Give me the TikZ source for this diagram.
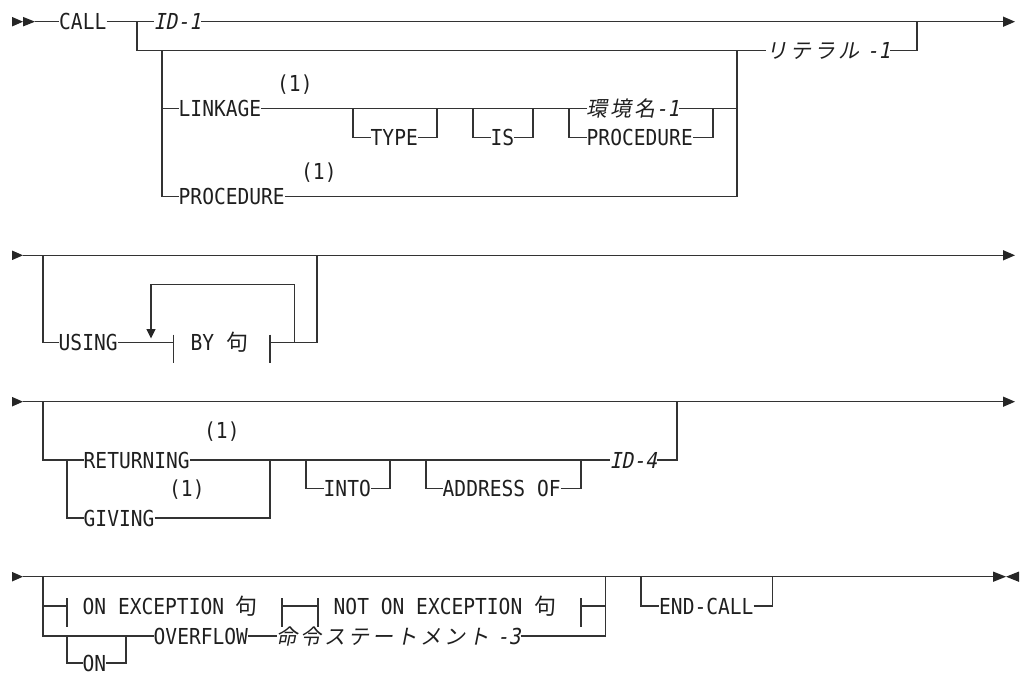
\documentclass[tikz,border=0pt]{standalone}
\usepackage{fontspec}
\newfontfamily\rrfont[FakeStretch=0.89]{DejaVu Sans Mono}
\newfontfamily\rritfont[FakeStretch=0.89,FakeSlant=0.2]{DejaVu Sans Mono}
\newfontfamily\jpfont{Noto Sans CJK JP}
\newfontfamily\jpitfont[FakeSlant=0.2,LetterSpace=14]{Noto Sans CJK JP}
\newcommand\kwsize{\fontsize{22}{24}\selectfont}
\newcommand\jpsize{\fontsize{21}{24}\selectfont}
\begin{document}
\begin{tikzpicture}[x=1pt,y=-1pt,
  rail/.style={line width=1.2pt, draw=black!80, line join=miter},
  kw/.style={font=\rrfont\kwsize, text=black!88, inner xsep=0pt, inner ysep=0pt,
             text height=16pt, text depth=0pt, anchor=west},
  kwit/.style={kw, font=\rritfont\kwsize},
  jpit/.style={kw, font=\jpitfont\jpsize},
  tip/.style={fill=black!85, draw=none}]
\useasboundingbox (0,0) rectangle (1023,674);

% ================= Row 1 =================
\coordinate (s1) at (35,21.7);
\coordinate (e1) at (1003,21.7);
\coordinate (b1) at (137,21.7);
\coordinate (j1) at (917,21.7);
\coordinate (g1) at (162,50.5);
\coordinate (g1r) at (737,50.5);
\coordinate (tL) at (353,108.3);
\coordinate (tR) at (437,108.3);
\coordinate (isL) at (473,108.3);
\coordinate (isR) at (533,108.3);
\coordinate (cL) at (569,108.3);
\coordinate (cR) at (713,108.3);

\fill[tip] (12,16.9) -- (23,21.7) -- (12,26.5) -- cycle;
\fill[tip] (23,16.9) -- (35,21.7) -- (23,26.5) -- cycle;
\fill[tip] (1003,16.5) -- (1015,21.7) -- (1003,26.9) -- cycle;

\node[kw] (call) at (59,21.7) {CALL};
\node[kwit] (id1) at (153.5,21.7) {ID-1};
\node[jpit] (lit) at (766,50.5) {リテラル {\rritfont\kwsize -1}};
\node[kw] (link) at (178.5,108.3) {LINKAGE};
\node[kw] (n1) at (277,84) {(1)};
\node[kw] (type) at (370.5,137.3) {TYPE};
\node[kw] (is) at (490.5,137.3) {IS};
\node[jpit] (env) at (586.5,108.3) {環境名{\rritfont\kwsize -1}};
\node[kw] (proc2) at (586.5,137.3) {PROCEDURE};
\node[kw] (proc1) at (178.5,196.7) {PROCEDURE};
\node[kw] (n2) at (301,171) {(1)};

\draw[rail] (s1) -- (call.west);
\draw[rail] (call.east) -- (id1.west);
\draw[rail] (id1.east) -- (e1);
\draw[rail] (b1) |- (lit.west);
\draw[rail] (lit.east) -| (j1);
\draw[rail] (g1) |- (proc1.west);
\draw[rail] (g1 |- link.west) -- (link.west);
\draw[rail] (link.east) -- (env.west);
\draw[rail] (tL) |- (type.west);
\draw[rail] (type.east) -| (tR);
\draw[rail] (isL) |- (is.west);
\draw[rail] (is.east) -| (isR);
\draw[rail] (cL) |- (proc2.west);
\draw[rail] (proc2.east) -| (cR);
\draw[rail] (env.east) -- (g1r |- env.east);
\draw[rail] (proc1.east) -| (g1r);

% ================= Row 2 =================
\coordinate (s2) at (23,255.3);
\coordinate (e2) at (1003,255.3);
\coordinate (u1) at (43,255.3);
\coordinate (u1r) at (317,255.3);
\coordinate (tk1) at (173.3,342.7);
\coordinate (tk2) at (270,342.7);
\coordinate (lp1) at (294.3,342.7);
\coordinate (lptop) at (151,284.3);
\coordinate (lpend) at (151,330);

\fill[tip] (12,250.5) -- (23,255.3) -- (12,260.1) -- cycle;
\fill[tip] (1003,250.1) -- (1015,255.3) -- (1003,260.5) -- cycle;

\node[kw] (using) at (58.5,342.7) {USING};
\node[kw] (by) at (190.5,342.7) {BY {\jpfont 句}};

\draw[rail] (s2) -- (e2);
\draw[rail] (u1) |- (using.west);
\draw[rail] (using.east) -- (tk1);
\draw[rail] (tk1) ++(0,-8) -- ++(0,28);
\draw[rail] (tk2) ++(0,-8) -- ++(0,28);
\draw[rail] (tk2) -| (u1r);
\draw[rail] (lp1) |- (lptop) -- (lpend);
\fill[tip] (146.3,329) -- (155.7,329) -- (151,338.5) -- cycle;

% ================= Row 3 =================
\coordinate (s3) at (23,401.7);
\coordinate (e3) at (1003,401.7);
\coordinate (r1) at (43,401.7);
\coordinate (r1r) at (677,401.7);
\coordinate (c3) at (67,460);
\coordinate (c3r) at (270,460);
\coordinate (iL) at (306,460);
\coordinate (iR) at (390,460);
\coordinate (aL) at (426,460);
\coordinate (aR) at (581,460);

\fill[tip] (12,396.9) -- (23,401.7) -- (12,406.5) -- cycle;
\fill[tip] (1003,396.5) -- (1015,401.7) -- (1003,406.9) -- cycle;

\node[kw] (ret) at (83.5,460) {RETURNING};
\node[kw] (n3) at (204,430) {(1)};
\node[kw] (giv) at (83.5,518) {GIVING};
\node[kw] (n4) at (169,488.3) {(1)};
\node[kw] (into) at (323.5,488.3) {INTO};
\node[kw] (addr) at (442.5,488.3) {ADDRESS OF};
\node[kwit] (id4) at (609.5,460) {ID-4};

\draw[rail] (s3) -- (e3);
\draw[rail] (r1) |- (ret.west);
\draw[rail] (c3) |- (giv.west);
\draw[rail] (giv.east) -| (c3r);
\draw[rail] (ret.east) -- (id4.west);
\draw[rail] (iL) |- (into.west);
\draw[rail] (into.east) -| (iR);
\draw[rail] (aL) |- (addr.west);
\draw[rail] (addr.east) -| (aR);
\draw[rail] (id4.east) -| (r1r);

% ================= Row 4 =================
\coordinate (s4) at (23,576.7);
\coordinate (e4) at (993,576.7);
\coordinate (x1) at (43,576.7);
\coordinate (x2) at (43,606);
\coordinate (t3) at (67,606);
\coordinate (t4) at (282,606);
\coordinate (t5) at (318,606);
\coordinate (t6) at (581,606);
\coordinate (x4) at (605.7,576.7);
\coordinate (o1) at (67,636);
\coordinate (o2) at (126,636);
\coordinate (ec1) at (641,576.7);
\coordinate (ec2) at (772.7,576.7);

\fill[tip] (12,571.9) -- (23,576.7) -- (12,581.5) -- cycle;
\fill[tip] (993,571.5) -- (1006,576.7) -- (993,581.9) -- cycle;
\fill[tip] (1019,571.5) -- (1006,576.7) -- (1019,581.9) -- cycle;

\node[kw] (onex) at (82.5,606) {ON EXCEPTION {\jpfont 句}};
\node[kw] (notonex) at (333.5,606) {NOT ON EXCEPTION {\jpfont 句}};
\node[kw] (on) at (82.5,663) {ON};
\node[kw] (ovf) at (153.5,636) {OVERFLOW};
\node[jpit] (stmt) at (276.5,636) {命令ステートメント {\rritfont\kwsize -3}};
\node[kw] (endc) at (659,606) {END-CALL};

\draw[rail] (s4) -- (e4);
\draw[rail] (x1) |- (ovf.west);
\draw[rail] (x2) -- (t3);
\draw[rail] (t3) ++(0,-8) -- ++(0,29);
\draw[rail] (t4) ++(0,-8) -- ++(0,29);
\draw[rail] (t5) ++(0,-8) -- ++(0,29);
\draw[rail] (t6) ++(0,-8) -- ++(0,29);
\draw[rail] (t4) -- (t5);
\draw[rail] (t6) -| (x4);
\draw[rail] (o1) |- (on.west);
\draw[rail] (on.east) -| (o2);
\draw[rail] (ovf.east) -- (stmt.west);
\draw[rail] (stmt.east) -| (x4);
\draw[rail] (ec1) |- (endc.west);
\draw[rail] (endc.east) -| (ec2);
\end{tikzpicture}
\end{document}
